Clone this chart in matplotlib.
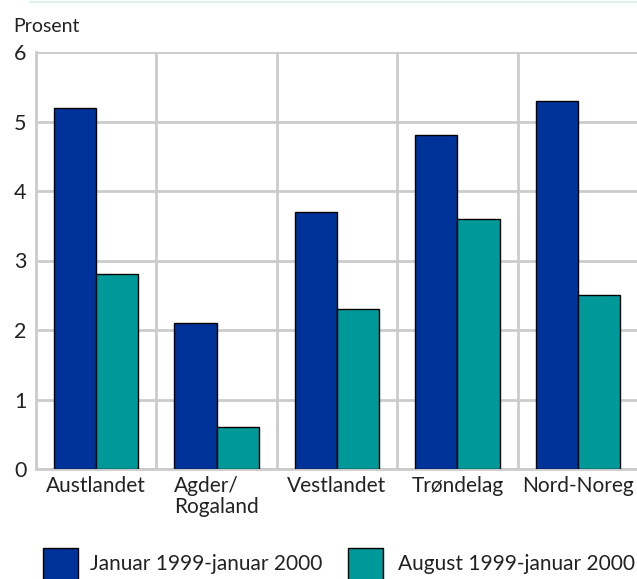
import numpy as np
import matplotlib.pyplot as plt
from matplotlib.patches import Rectangle

regions = ['Austlandet', 'Agder/\nRogaland', 'Vestlandet', 'Trøndelag', 'Nord-Noreg']
jan_jan = [5.2, 2.1, 3.7, 4.8, 5.3]
aug_jan = [2.8, 0.6, 2.3, 3.6, 2.5]
series_names = ['Januar 1999-januar 2000', 'August 1999-januar 2000']

blue = '#003399'
teal = '#009999'
grid_c = '#cccccc'
txt_c = '#222222'

plt.rcParams['font.family'] = ['Lato', 'DejaVu Sans']

W, H = 637, 579
fig = plt.figure(figsize=(W / 100, H / 100), dpi=100)
ax = fig.add_axes([36 / W, 1 - 469 / H, 602 / W, 417 / H])

x = np.arange(len(regions))
w = 0.35
ax.bar(x - w / 2, jan_jan, w, color=blue, edgecolor='black', linewidth=1, zorder=3)
ax.bar(x + w / 2, aug_jan, w, color=teal, edgecolor='black', linewidth=1, zorder=3)

ax.set_xlim(-0.5, 4.5)
ax.set_ylim(0, 6)
ax.set_yticks(range(0, 7))
ax.set_xticks(x)
ax.set_xticklabels(regions, fontsize=15, color=txt_c, ha='center', multialignment='left',
                   linespacing=1.05)
ax.set_xticks(np.arange(0.5, 4.5, 1), minor=True)
ax.tick_params(axis='y', labelsize=15.5, length=0, pad=7, labelcolor=txt_c)
ax.tick_params(axis='x', which='both', length=0, pad=5)
ax.grid(axis='y', color=grid_c, linewidth=2, zorder=0)
ax.grid(axis='x', which='minor', color=grid_c, linewidth=2, zorder=0)
for s in ['top', 'right']:
    ax.spines[s].set_visible(False)
for s in ['left', 'bottom']:
    ax.spines[s].set_color(grid_c)
    ax.spines[s].set_linewidth(2)

fig.text(13 / W, 1 - 32 / H, 'Prosent', fontsize=14, color=txt_c, va='baseline')
fig.add_artist(plt.Line2D([30 / W, 1], [1 - 1.5 / H, 1 - 1.5 / H], color='#dcf0f0', linewidth=1.5))

# legend
for (sx, tx), col, name in zip([(43, 90), (348, 398)], [blue, teal], series_names):
    fig.add_artist(Rectangle((sx / W, 1 - 583 / H), 35 / W, 35 / H, facecolor=col,
                             edgecolor='black', linewidth=1, transform=fig.transFigure))
    fig.text(tx / W, 1 - 570 / H, name, fontsize=15, color=txt_c, va='baseline')

fig.savefig('out.png', dpi=100)
